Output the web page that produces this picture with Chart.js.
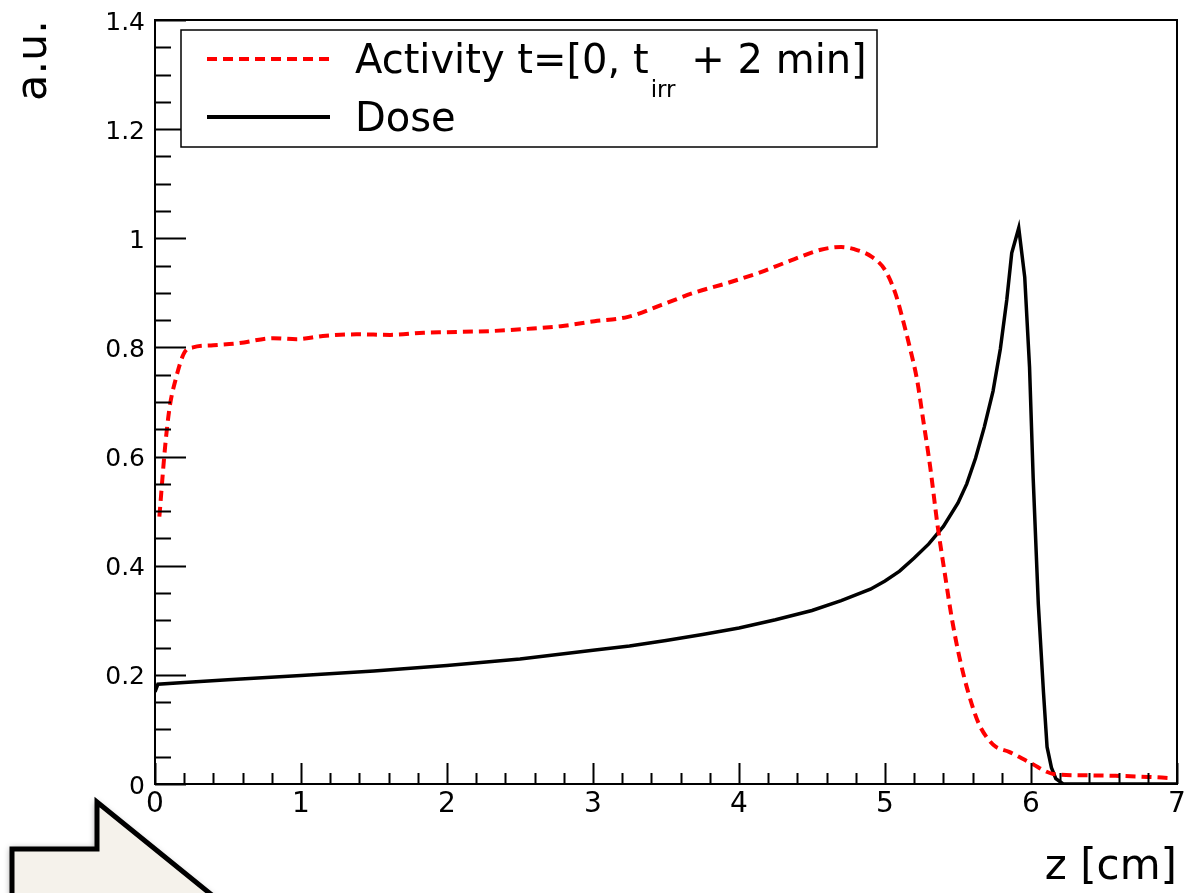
<!DOCTYPE html>
<html>
<head>
<meta charset="utf-8">
<title>Activity and dose vs depth</title>
<script src="https://cdn.jsdelivr.net/npm/chart.js@4.4.1/dist/chart.umd.min.js"></script>
<style>
  html, body { margin: 0; padding: 0; background: #fff; }
  canvas { display: block; }
</style>
</head>
<body>
<canvas id="depthChart" width="1184" height="893"></canvas>
<script>
  // Activity t=[0, t_irr + 2 min]
  const activityZ = [0.03, 0.07, 0.1, 0.14, 0.2, 0.26, 0.4, 0.58, 0.81, 0.97, 1.15, 1.38, 1.61, 1.84, 2.0,
    2.3, 2.55, 2.78, 3.01, 3.24, 3.47, 3.69, 3.92, 4.15, 4.38, 4.56, 4.7, 4.79, 4.91, 5.0, 5.07, 5.12,
    5.17, 5.22, 5.26, 5.31, 5.36, 5.41, 5.46, 5.51, 5.57, 5.64, 5.71, 5.76, 5.85, 6.0, 6.16, 6.35, 6.58, 6.8, 6.95];
  const activityVal = [0.49, 0.62, 0.69, 0.74, 0.79, 0.8, 0.804, 0.808, 0.817, 0.815, 0.821, 0.824, 0.823, 0.827, 0.828,
    0.83, 0.834, 0.839, 0.848, 0.856, 0.878, 0.9, 0.918, 0.938, 0.962, 0.979, 0.984, 0.98, 0.966, 0.942, 0.9, 0.853,
    0.8, 0.74, 0.67, 0.58, 0.474, 0.385, 0.3, 0.232, 0.168, 0.112, 0.081, 0.068, 0.059, 0.038, 0.018, 0.016, 0.015, 0.013, 0.011];

  // Dose
  const doseZ = [0, 0.02, 0.2, 0.5, 1.0, 1.5, 2.0, 2.5, 3.0, 3.25, 3.5, 3.75, 4.0, 4.25, 4.5, 4.7, 4.9, 5.0,
    5.1, 5.2, 5.3, 5.4, 5.5, 5.56, 5.62, 5.68, 5.74, 5.79, 5.834, 5.868, 5.916, 5.957, 5.99, 6.015, 6.05,
    6.085, 6.11, 6.14, 6.17, 6.22, 7.0];
  const doseVal = [0.169, 0.183, 0.186, 0.191, 0.199, 0.207, 0.217, 0.229, 0.245, 0.253, 0.263, 0.274, 0.286,
    0.301, 0.318, 0.336, 0.357, 0.372, 0.39, 0.414, 0.44, 0.472, 0.515, 0.55, 0.597, 0.654, 0.72, 0.797, 0.887,
    0.973, 1.019, 0.929, 0.764, 0.56, 0.33, 0.17, 0.068, 0.03, 0.01, 0, 0];

  const xTickValues = [0, 1, 2, 3, 4, 5, 6, 7];
  const xTickLabels = ['0', '1', '2', '3', '4', '5', '6', '7'];
  const yTickValues = [0, 0.2, 0.4, 0.6, 0.8, 1, 1.2, 1.4];
  const yTickLabels = ['0', '0.2', '0.4', '0.6', '0.8', '1', '1.2', '1.4'];

  const seriesNames = ['Activity t=[0, t_irr + 2 min]', 'Dose'];

  const toPoints = (xs, ys) => xs.map((x, i) => ({ x: x, y: ys[i] }));

  // ROOT-like frame, inner ticks, legend box and the arrow decoration
  const rootFrame = {
    id: 'rootFrame',
    afterDraw(chart) {
      const { ctx, chartArea: a, scales: { x, y } } = chart;
      ctx.save();
      ctx.strokeStyle = '#000';
      ctx.lineWidth = 2;
      ctx.strokeRect(a.left, a.top, a.right - a.left, a.bottom - a.top);

      ctx.beginPath();
      for (let i = 0; i <= 35; i++) {
        const px = Math.round(x.getPixelForValue(i * 0.2)) + 0.5;
        const len = i % 5 === 0 ? 21 : 11;
        ctx.moveTo(px, a.bottom);
        ctx.lineTo(px, a.bottom - len);
      }
      for (let i = 0; i <= 28; i++) {
        const py = Math.round(y.getPixelForValue(i * 0.05)) + 0.5;
        const len = i % 4 === 0 ? 31 : 16;
        ctx.moveTo(a.left, py);
        ctx.lineTo(a.left + len, py);
      }
      ctx.stroke();

      // legend
      ctx.fillStyle = '#fff';
      ctx.fillRect(181, 30, 696, 117);
      ctx.lineWidth = 1.5;
      ctx.strokeRect(181, 30, 696, 117);

      const ds = chart.data.datasets;
      ctx.lineWidth = ds[0].borderWidth;
      ctx.strokeStyle = ds[0].borderColor;
      ctx.setLineDash(ds[0].borderDash);
      ctx.beginPath();
      ctx.moveTo(207, 59);
      ctx.lineTo(330, 59);
      ctx.stroke();
      ctx.setLineDash([]);
      ctx.lineWidth = ds[1].borderWidth + 0.5;
      ctx.strokeStyle = ds[1].borderColor;
      ctx.beginPath();
      ctx.moveTo(207, 117);
      ctx.lineTo(330, 117);
      ctx.stroke();

      ctx.fillStyle = '#000';
      ctx.textBaseline = 'alphabetic';
      ctx.textAlign = 'left';
      const big = '40px "DejaVu Sans"';
      const small = '23px "DejaVu Sans"';
      const [head, rest] = seriesNames[0].split('_');
      const sub = rest.split(' ')[0];
      const tail = rest.slice(sub.length);
      let tx = 355;
      ctx.font = big;
      ctx.fillText(head, tx, 73);
      tx += ctx.measureText(head).width + 2;
      ctx.font = small;
      ctx.fillText(sub, tx, 97);
      tx += ctx.measureText(sub).width + 3;
      ctx.font = big;
      ctx.fillText(tail, tx, 73);
      ctx.fillText(seriesNames[1], 355, 131);

      // arrow decoration, bottom left
      ctx.beginPath();
      ctx.moveTo(12, 900);
      ctx.lineTo(12, 849);
      ctx.lineTo(97, 849);
      ctx.lineTo(97, 802);
      ctx.lineTo(218, 900);
      ctx.closePath();
      ctx.shadowColor = 'rgba(0,0,0,0.35)';
      ctx.shadowBlur = 6;
      ctx.shadowOffsetX = -2;
      ctx.shadowOffsetY = -1;
      ctx.fillStyle = '#f5f2eb';
      ctx.fill();
      ctx.shadowColor = 'transparent';
      ctx.lineWidth = 5;
      ctx.lineJoin = 'miter';
      ctx.strokeStyle = '#000';
      ctx.stroke();
      ctx.restore();
    }
  };

  const depthConfig = {
    type: 'line',
    data: {
      datasets: [{
        label: seriesNames[0],
        data: toPoints(activityZ, activityVal),
        borderColor: '#ff0000',
        borderWidth: 4,
        borderDash: [10, 6],
        pointRadius: 0,
        cubicInterpolationMode: 'monotone',
        fill: false
      }, {
        label: seriesNames[1],
        data: toPoints(doseZ, doseVal),
        borderColor: '#000000',
        borderWidth: 3.5,
        pointRadius: 0,
        tension: 0,
        fill: false
      }]
    },
    options: {
      responsive: false,
      animation: false,
      devicePixelRatio: 1,
      layout: { padding: { left: 0, top: 20, right: 7, bottom: 0 } },
      plugins: {
        legend: { display: false },
        tooltip: { enabled: false }
      },
      scales: {
        x: {
          type: 'linear',
          min: 0,
          max: 7,
          grid: { display: false, drawTicks: false },
          border: { display: false },
          afterBuildTicks: s => { s.ticks = xTickValues.map(v => ({ value: v })); },
          afterFit: s => { s.height = 109; s.paddingLeft = 0; s.paddingRight = 0; },
          ticks: {
            color: '#000',
            padding: 4,
            maxRotation: 0,
            autoSkip: false,
            font: { family: 'DejaVu Sans', size: 28 },
            callback: (v, i) => xTickLabels[i]
          },
          title: {
            display: true,
            text: 'z [cm]',
            align: 'end',
            color: '#000',
            font: { family: 'DejaVu Sans', size: 42 },
            padding: { top: 0, bottom: 0 }
          }
        },
        y: {
          min: 0,
          max: 1.4,
          grid: { display: false, drawTicks: false },
          border: { display: false },
          afterBuildTicks: s => { s.ticks = yTickValues.map(v => ({ value: v })); },
          afterFit: s => { s.width = 155; s.paddingTop = 0; s.paddingBottom = 0; },
          ticks: {
            color: '#000',
            padding: 10,
            labelOffset: 3,
            autoSkip: false,
            font: { family: 'DejaVu Sans', size: 25 },
            callback: (v, i) => yTickLabels[i]
          },
          title: {
            display: true,
            text: 'a.u.',
            align: 'end',
            color: '#000',
            font: { family: 'DejaVu Sans', size: 43 },
            padding: { top: 9, bottom: 0 }
          }
        }
      }
    },
    plugins: [rootFrame]
  };

  const depthChart = new Chart(document.getElementById('depthChart'), depthConfig);
</script>
</body>
</html>
